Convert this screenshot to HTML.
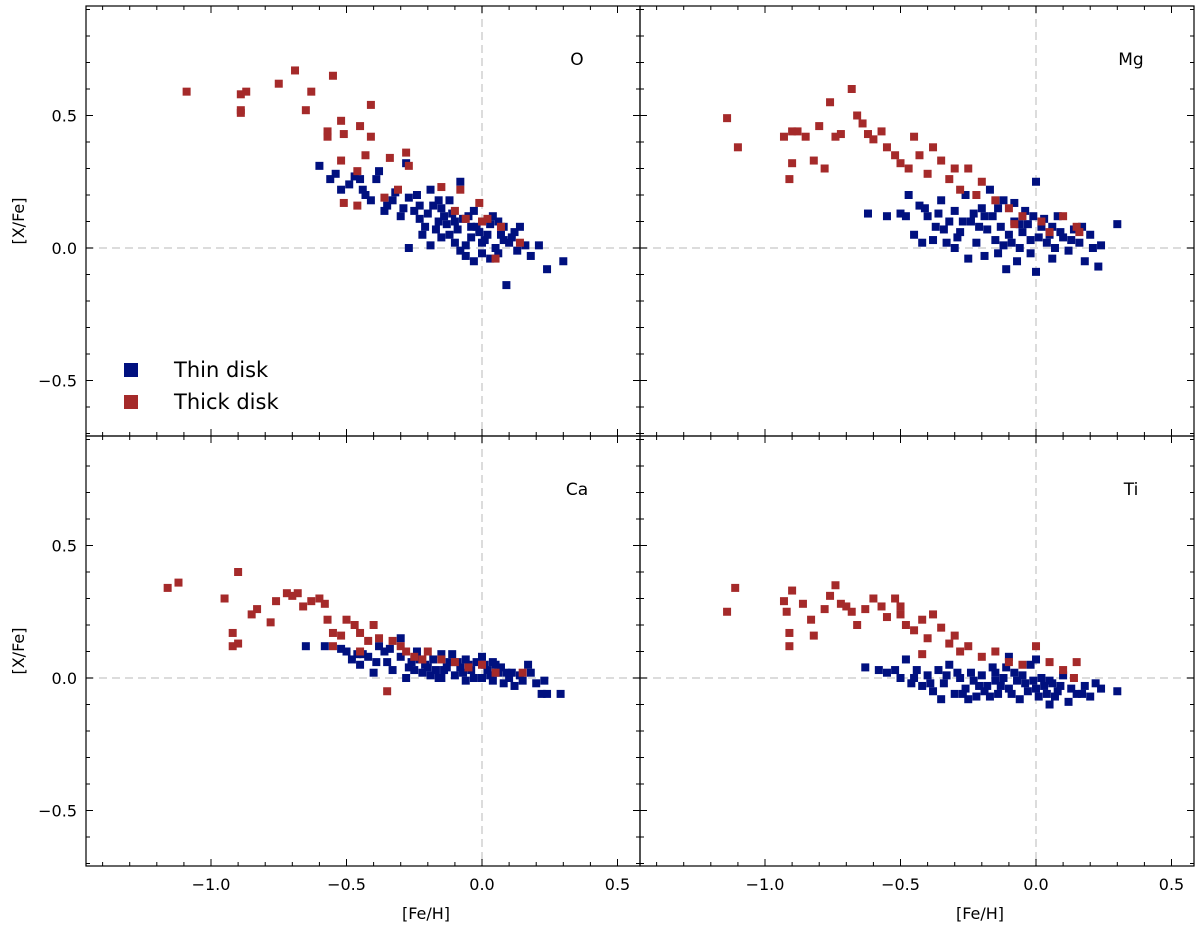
<!DOCTYPE html>
<html><head><meta charset="utf-8"><style>
body{margin:0;background:#fff;}
svg{display:block;font-family:"DejaVu Sans","Liberation Sans",sans-serif;}
</style></head><body>
<svg id="chart" width="1200" height="929" viewBox="0 0 1200 929"></svg>
<script>
const xTicks=[-1.0,-0.5,0.0,0.5];
const xTickLabels=["\u22121.0","\u22120.5","0.0","0.5"];
const yTicks=[0.5,0.0,-0.5];
const yTickLabels=["0.5","0.0","\u22120.5"];
const panelNames=["O","Mg","Ca","Ti"];
const thinO=[[-0.6,0.31],[-0.56,0.26],[-0.47,0.27],[-0.49,0.24],[-0.38,0.29],[-0.28,0.32],[-0.41,0.18],[-0.32,0.21],[-0.27,0.19],[-0.23,0.16],[-0.19,0.22],[-0.15,0.15],[-0.12,0.18],[-0.08,0.25],[-0.07,0.11],[-0.04,0.08],[-0.03,0.14],[0.01,0.03],[0.03,0.09],[0.07,0.05],[0.1,0.02],[0.14,0.08],[0.21,0.01],[0.24,-0.08],[0.3,-0.05],[0.09,-0.14],[0.03,-0.04],[-0.03,-0.05],[-0.08,-0.01],[-0.15,0.04],[-0.21,0.08],[-0.27,0.0],[-0.19,0.01],[-0.3,0.12],[-0.36,0.14],[-0.43,0.2],[-0.52,0.22],[-0.12,0.05],[-0.1,0.1],[-0.04,0.04],[-0.01,0.06],[0.05,0.0],[0.12,0.06],[0.16,0.01],[-0.14,0.12],[-0.23,0.11],[-0.17,0.07],[-0.06,0.01],[0.06,0.1],[0.18,-0.03],[-0.45,0.26],[-0.35,0.16],[-0.2,0.13],[-0.09,0.07],[0.0,0.02],[-0.25,0.14],[-0.13,0.09],[0.08,0.03],[-0.54,0.28],[-0.44,0.22],[-0.39,0.26],[-0.33,0.18],[-0.29,0.15],[-0.24,0.2],[-0.22,0.05],[-0.18,0.16],[-0.16,0.1],[-0.11,0.13],[-0.05,0.12],[-0.02,0.08],[0.02,0.05],[0.04,0.12],[0.06,-0.02],[0.11,0.04],[0.13,-0.01],[-0.1,0.02],[-0.06,-0.03],[0.0,-0.02],[0.08,0.08],[-0.16,0.18]];
const thickO=[[-1.09,0.59],[-0.89,0.58],[-0.87,0.59],[-0.89,0.52],[-0.89,0.51],[-0.75,0.62],[-0.69,0.67],[-0.63,0.59],[-0.55,0.65],[-0.65,0.52],[-0.52,0.48],[-0.41,0.54],[-0.57,0.44],[-0.57,0.42],[-0.51,0.43],[-0.45,0.46],[-0.41,0.42],[-0.43,0.35],[-0.52,0.33],[-0.46,0.29],[-0.34,0.34],[-0.28,0.36],[-0.27,0.31],[-0.51,0.17],[-0.46,0.16],[-0.36,0.19],[-0.31,0.22],[-0.15,0.23],[-0.08,0.22],[-0.1,0.14],[-0.06,0.11],[-0.01,0.17],[0.0,0.1],[0.02,0.11],[0.05,-0.04],[0.14,0.02],[0.07,0.08]];
const thinMg=[[-0.62,0.13],[-0.55,0.12],[-0.5,0.13],[-0.47,0.2],[-0.45,0.05],[-0.42,0.02],[-0.4,0.12],[-0.37,0.08],[-0.35,0.18],[-0.33,0.02],[-0.3,0.14],[-0.28,0.06],[-0.26,0.2],[-0.24,0.1],[-0.22,0.02],[-0.2,0.15],[-0.18,0.07],[-0.16,0.12],[-0.14,-0.02],[-0.12,0.18],[-0.1,0.05],[-0.08,0.1],[-0.06,0.0],[-0.04,0.14],[-0.02,0.03],[0.0,0.25],[0.0,-0.09],[0.02,0.08],[0.04,0.02],[0.06,-0.04],[0.08,0.12],[0.1,0.04],[0.12,-0.01],[0.14,0.07],[0.16,0.02],[0.2,0.05],[0.23,-0.07],[0.24,0.01],[0.3,0.09],[-0.19,-0.03],[-0.11,-0.08],[-0.25,-0.04],[-0.15,0.03],[-0.05,0.06],[0.07,0.0],[-0.3,0.0],[-0.36,0.13],[-0.43,0.16],[0.18,-0.05],[-0.01,0.12],[-0.17,0.22],[-0.07,-0.05],[-0.23,0.13],[-0.13,0.08],[-0.03,0.09],[0.05,0.05],[-0.27,0.1],[-0.09,0.02],[-0.48,0.12],[-0.41,0.15],[-0.38,0.03],[-0.32,0.1],[-0.29,0.04],[-0.21,0.08],[-0.19,0.12],[-0.14,0.15],[-0.12,0.01],[-0.06,0.09],[0.01,0.04],[0.03,0.11],[0.09,0.06],[0.13,0.03],[0.17,0.08],[0.21,0.0],[-0.02,-0.02],[-0.08,0.17],[0.06,0.08],[-0.34,0.07]];
const thickMg=[[-1.14,0.49],[-1.1,0.38],[-0.93,0.42],[-0.9,0.44],[-0.88,0.44],[-0.9,0.32],[-0.91,0.26],[-0.85,0.42],[-0.82,0.33],[-0.8,0.46],[-0.78,0.3],[-0.76,0.55],[-0.74,0.42],[-0.72,0.43],[-0.68,0.6],[-0.66,0.5],[-0.64,0.47],[-0.62,0.43],[-0.6,0.41],[-0.57,0.44],[-0.55,0.38],[-0.52,0.35],[-0.5,0.32],[-0.47,0.3],[-0.45,0.42],[-0.43,0.35],[-0.4,0.28],[-0.38,0.38],[-0.35,0.33],[-0.32,0.26],[-0.3,0.3],[-0.28,0.22],[-0.25,0.3],[-0.22,0.2],[-0.2,0.25],[-0.15,0.18],[-0.1,0.15],[-0.05,0.12],[0.02,0.1],[0.1,0.12],[0.15,0.08],[0.16,0.06],[-0.08,0.09],[0.05,0.06]];
const thinCa=[[-0.65,0.12],[-0.58,0.12],[-0.5,0.1],[-0.48,0.07],[-0.45,0.05],[-0.42,0.08],[-0.4,0.02],[-0.38,0.12],[-0.35,0.06],[-0.33,0.03],[-0.3,0.08],[-0.28,0.0],[-0.26,0.06],[-0.24,0.1],[-0.22,0.02],[-0.2,0.04],[-0.18,0.07],[-0.16,0.0],[-0.14,0.03],[-0.12,0.06],[-0.1,0.01],[-0.08,0.04],[-0.06,-0.01],[-0.04,0.03],[-0.02,0.06],[0.0,0.0],[0.02,0.03],[0.04,-0.01],[0.06,0.02],[0.08,-0.02],[0.1,0.0],[0.12,-0.03],[0.14,0.01],[0.17,0.05],[0.2,-0.02],[0.22,-0.06],[0.24,-0.06],[0.29,-0.06],[0.23,-0.01],[-0.15,0.09],[-0.25,0.03],[-0.36,0.1],[-0.44,0.09],[-0.05,0.05],[0.05,0.05],[-0.11,0.09],[0.0,0.08],[-0.3,0.15],[-0.19,0.01],[-0.07,0.02],[0.03,0.01],[-0.13,0.04],[0.09,0.02],[-0.52,0.11],[-0.46,0.09],[-0.39,0.06],[-0.34,0.11],[-0.27,0.04],[-0.23,0.07],[-0.21,0.05],[-0.17,0.03],[-0.09,0.06],[-0.03,0.0],[0.01,0.05],[0.07,0.04],[0.11,0.02],[0.15,-0.01],[0.18,0.02],[-0.15,0.0],[-0.06,0.07],[0.04,0.06]];
const thickCa=[[-1.16,0.34],[-1.12,0.36],[-0.95,0.3],[-0.9,0.4],[-0.92,0.17],[-0.92,0.12],[-0.9,0.13],[-0.85,0.24],[-0.83,0.26],[-0.78,0.21],[-0.76,0.29],[-0.72,0.32],[-0.7,0.31],[-0.68,0.32],[-0.66,0.27],[-0.63,0.29],[-0.6,0.3],[-0.58,0.28],[-0.57,0.22],[-0.55,0.17],[-0.52,0.16],[-0.5,0.22],[-0.47,0.2],[-0.45,0.17],[-0.42,0.14],[-0.4,0.2],[-0.38,0.15],[-0.35,-0.05],[-0.33,0.14],[-0.3,0.12],[-0.28,0.1],[-0.25,0.08],[-0.22,0.07],[-0.2,0.1],[-0.15,0.07],[-0.1,0.06],[-0.05,0.04],[0.0,0.05],[0.05,0.02],[0.15,0.02],[-0.55,0.12],[-0.45,0.1]];
const thinTi=[[-0.63,0.04],[-0.58,0.03],[-0.55,0.02],[-0.5,0.0],[-0.48,0.07],[-0.46,-0.02],[-0.44,0.03],[-0.42,-0.03],[-0.4,0.01],[-0.38,-0.05],[-0.36,0.03],[-0.34,-0.02],[-0.32,0.05],[-0.3,-0.06],[-0.28,0.0],[-0.26,-0.04],[-0.24,0.02],[-0.22,-0.07],[-0.2,0.01],[-0.18,-0.03],[-0.16,0.04],[-0.14,-0.06],[-0.12,0.0],[-0.1,-0.04],[-0.08,0.02],[-0.06,-0.08],[-0.04,-0.02],[-0.02,0.05],[0.0,-0.04],[0.02,0.0],[0.04,-0.06],[0.06,-0.02],[0.08,-0.05],[0.1,0.01],[0.12,-0.09],[0.15,-0.06],[0.18,-0.03],[0.2,-0.07],[0.24,-0.04],[0.3,-0.05],[-0.1,0.08],[-0.25,-0.08],[-0.35,-0.08],[-0.05,0.01],[0.05,-0.1],[-0.15,-0.01],[0.0,0.07],[0.03,-0.03],[-0.21,-0.03],[-0.09,-0.06],[-0.01,-0.01],[0.07,-0.07],[-0.29,0.02],[-0.17,-0.07],[-0.52,0.03],[-0.45,0.0],[-0.39,-0.02],[-0.33,0.01],[-0.27,-0.06],[-0.23,-0.01],[-0.19,-0.05],[-0.13,-0.03],[-0.11,0.04],[-0.07,-0.01],[-0.03,-0.05],[0.01,-0.07],[0.05,-0.01],[0.09,-0.03],[0.13,-0.04],[0.17,-0.06],[0.22,-0.02],[-0.15,0.02]];
const thickTi=[[-1.14,0.25],[-1.11,0.34],[-0.93,0.29],[-0.9,0.33],[-0.92,0.25],[-0.91,0.17],[-0.91,0.12],[-0.86,0.28],[-0.83,0.22],[-0.82,0.16],[-0.78,0.26],[-0.76,0.31],[-0.74,0.35],[-0.72,0.28],[-0.7,0.27],[-0.68,0.25],[-0.66,0.2],[-0.63,0.26],[-0.6,0.3],[-0.57,0.27],[-0.55,0.23],[-0.52,0.3],[-0.5,0.24],[-0.48,0.2],[-0.45,0.18],[-0.42,0.22],[-0.4,0.15],[-0.38,0.24],[-0.35,0.19],[-0.32,0.13],[-0.3,0.16],[-0.28,0.1],[-0.25,0.12],[-0.2,0.08],[-0.15,0.1],[-0.1,0.06],[-0.05,0.05],[0.0,0.12],[0.05,0.06],[0.1,0.03],[0.15,0.06],[0.14,0.0],[-0.5,0.27],[-0.42,0.09]];
const thinSets=[thinO,thinMg,thinCa,thinTi];
const thickSets=[thickO,thickMg,thickCa,thickTi];

const NS="http://www.w3.org/2000/svg";
const svg=document.getElementById('chart');
function mk(tag,attrs,parent){const e=document.createElementNS(NS,tag);for(const k in attrs)e.setAttribute(k,attrs[k]);(parent||svg).appendChild(e);return e;}
const PW=554,PH=430,X0=[86,640],Y0=[6,436];
const XMIN=-1.4613,XMAX=0.5830,YMAX=0.9132,YMIN=-0.7094;
const THIN="#00107f",THICK="#a52a2a";
for(let p=0;p<4;p++){
  const ox=X0[p%2],oy=Y0[Math.floor(p/2)];
  const sx=v=>ox+(v-XMIN)/(XMAX-XMIN)*PW;
  const sy=v=>oy+(YMAX-v)/(YMAX-YMIN)*PH;
  const g=mk('g',{});
  
  
  const h=mk('line',{x1:ox,x2:ox+PW,y1:sy(0),y2:sy(0),stroke:'#dcdcdc','stroke-width':2,'stroke-dasharray':'8,5'},g);
  
  const v=mk('line',{x1:sx(0),x2:sx(0),y1:oy,y2:oy+PH,stroke:'#dcdcdc','stroke-width':2,'stroke-dasharray':'8,5'},g);
  
  for(let i=-14;i<=5;i++){const val=i/10;const x=sx(val);if(x<ox+1||x>ox+PW-1)continue;const major=(i%5===0);const L=major?7:4;
    mk('line',{x1:x,x2:x,y1:oy+PH,y2:oy+PH-L,stroke:'#000','stroke-width':1},g);
    mk('line',{x1:x,x2:x,y1:oy,y2:oy+L,stroke:'#000','stroke-width':1},g);}
  for(let i=-7;i<=9;i++){const val=i/10;const y=sy(val);if(y<oy+1||y>oy+PH-1)continue;const major=(i%5===0);const L=major?7:4;
    mk('line',{x1:ox,x2:ox+L,y1:y,y2:y,stroke:'#000','stroke-width':1},g);
    mk('line',{x1:ox+PW,x2:ox+PW-L,y1:y,y2:y,stroke:'#000','stroke-width':1},g);}
  if(p%2===0){yTicks.forEach((t,i)=>{const e=mk('text',{x:ox-9,y:sy(t)+6,'text-anchor':'end','font-size':16},g);e.textContent=yTickLabels[i];
      });
    const yl=mk('text',{x:24,y:oy+PH/2,'text-anchor':'middle','font-size':16,transform:`rotate(-90 24 ${oy+PH/2})`},g);yl.textContent='[X/Fe]';
    }
  if(p>=2){xTicks.forEach((t,i)=>{const e=mk('text',{x:sx(t),y:oy+PH+24,'text-anchor':'middle','font-size':16},g);e.textContent=xTickLabels[i];
      });
    const xl=mk('text',{x:sx(0)-56,y:919,'text-anchor':'middle','font-size':16},g);xl.textContent='[Fe/H]';
    }
  thinSets[p].forEach(d=>{const r=mk('rect',{x:sx(d[0])-4,y:sy(d[1])-4,width:8,height:8,fill:THIN},g);
    });
  thickSets[p].forEach(d=>{const r=mk('rect',{x:sx(d[0])-4,y:sy(d[1])-4,width:8,height:8,fill:THICK},g);
    });
  const lab=mk('text',{x:ox+PW-63,y:oy+59,'text-anchor':'middle','font-size':17},g);lab.textContent=panelNames[p];
  
  const fr=mk('rect',{x:ox,y:oy,width:PW,height:PH,fill:'none',stroke:'#000','stroke-width':1.2},g);
  
}
const leg=mk('g',{});

[["Thin disk",THIN,370],["Thick disk",THICK,402]].forEach(([t,c,y])=>{
  const r=mk('rect',{x:124,y:y-7,width:14,height:14,fill:c},leg);
  
  const e=mk('text',{x:174,y:y+7,'font-size':21},leg);e.textContent=t;
  
});
</script>
</body></html>
